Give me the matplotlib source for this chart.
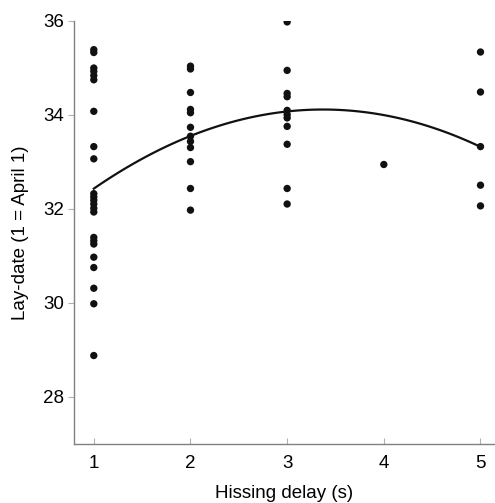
import numpy as np
import matplotlib.pyplot as plt

plt.rcParams['font.family'] = ['Liberation Sans', 'DejaVu Sans']

# lay-date observations for each hissing delay (s)
delay_1 = [35.38, 35.32, 34.99, 34.92, 34.83, 34.74, 34.07, 33.32, 33.06,
           32.32, 32.25, 32.18, 32.10, 32.01, 31.93, 31.39, 31.32, 31.25,
           30.97, 30.75, 30.31, 29.98, 28.88]
delay_2 = [35.03, 34.97, 34.47, 34.11, 34.04, 33.73, 33.54, 33.43, 33.30,
           33.00, 32.43, 31.97]
delay_3 = [35.97, 34.94, 34.45, 34.38, 34.09, 34.00, 33.93, 33.75, 33.37,
           32.43, 32.10]
delay_4 = [32.94]
delay_5 = [35.33, 34.48, 33.32, 32.50, 32.06]

groups = {1: delay_1, 2: delay_2, 3: delay_3, 4: delay_4, 5: delay_5}

# quadratic fit coefficients (a + b*x + c*x^2)
fit_a, fit_b, fit_c = 30.71, 2.016, -0.299

fig = plt.figure(figsize=(4.95, 5.03), dpi=100)
ax = fig.add_axes([73.5 / 495, 1 - 444 / 503, (495 - 73.5) / 495, (444 - 20.5) / 503])

for x, ys in groups.items():
    ax.scatter([x] * len(ys), ys, s=28, color='#111111', edgecolors='none', zorder=3)

xs = np.linspace(1, 5, 100)
ax.plot(xs, fit_a + fit_b * xs + fit_c * xs ** 2, color='#111111', lw=1.6, zorder=2)

ax.set_xlim(0.79, 5.15)
ax.set_ylim(27.0, 36.0)
ax.set_xticks([1, 2, 3, 4, 5])
ax.set_yticks([28, 30, 32, 34, 36])

for side in ['top', 'right']:
    ax.spines[side].set_visible(False)
for side in ['left', 'bottom']:
    ax.spines[side].set_color('#808080')
    ax.spines[side].set_linewidth(1.0)

ax.tick_params(axis='x', direction='in', length=4, color='#b0b0b0', labelsize=13.5, pad=8)
ax.tick_params(axis='y', direction='out', length=4, color='#b0b0b0', labelsize=13.5, pad=3)

ax.set_xlabel('Hissing delay (s)', fontsize=13.5, labelpad=9)
ax.set_ylabel('Lay-date (1 = April 1)', fontsize=13.5, labelpad=10)

fig.savefig('out.png', dpi=100)
